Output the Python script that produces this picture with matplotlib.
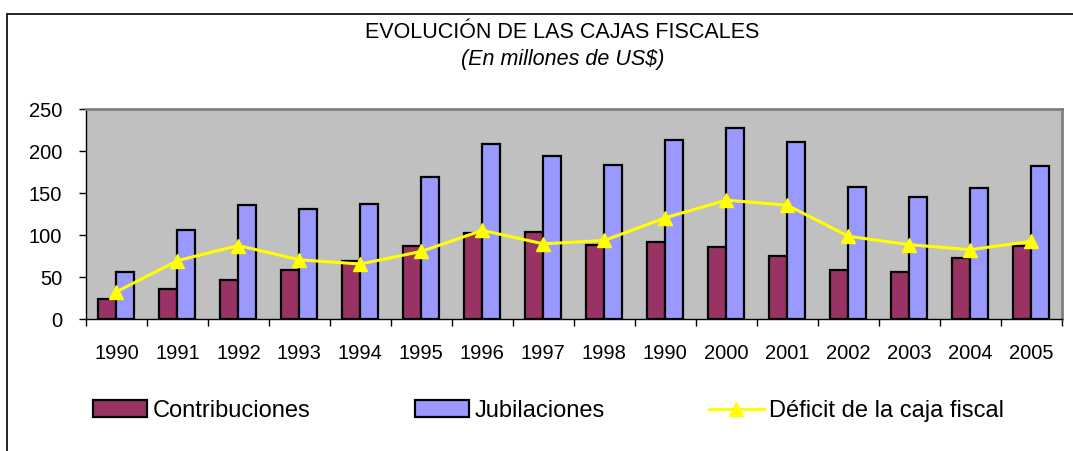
import numpy as np
import matplotlib.pyplot as plt
from matplotlib.patches import Rectangle

plt.rcParams['font.family'] = ['Liberation Sans', 'DejaVu Sans']

# Datos (millones de US$)
anios = ['1990', '1991', '1992', '1993', '1994', '1995', '1996', '1997',
         '1998', '1990', '2000', '2001', '2002', '2003', '2004', '2005']
contribuciones = [24, 36, 47, 59, 70, 87, 103, 104, 89, 92, 86, 75, 59, 57, 73, 88]
jubilaciones = [57, 106, 136, 131, 137, 169, 209, 194, 184, 213, 228, 211, 158, 146, 157, 182]
deficit = [33, 70, 88, 71, 66, 81, 106, 90, 94, 121, 142, 136, 99, 89, 83, 93]

fig = plt.figure(figsize=(10.73, 4.51), dpi=100)
ax = fig.add_axes([0.0801, 0.2916, 0.9094, 0.466])

x = np.arange(len(anios))
w = 0.295
b1 = ax.bar(x - w/2, contribuciones, w, color='#993366', edgecolor='black', linewidth=1.6,
            label='Contribuciones', zorder=2)
b2 = ax.bar(x + w/2, jubilaciones, w, color='#9999FF', edgecolor='black', linewidth=1.6,
            label='Jubilaciones', zorder=2)
l1, = ax.plot(x, deficit, color='#FFFF00', linewidth=2.2, marker='^', markersize=10,
              label='Déficit de la caja fiscal', zorder=3)

ax.set_facecolor('#C0C0C0')
ax.set_xlim(-0.5, len(anios) - 0.5)
ax.set_ylim(0, 250)
ax.set_yticks(range(0, 251, 50))
ax.set_xticks(x)
ax.set_xticklabels(anios)
ax.set_xticks(np.arange(-0.5, len(anios)), minor=True)
ax.tick_params(axis='x', which='major', length=0, pad=18, labelsize=14.5)
ax.tick_params(axis='x', which='minor', length=5, width=1, direction='out')
ax.tick_params(axis='y', length=5, width=1, pad=12, labelsize=14.5)

for s in ['top', 'right']:
    ax.spines[s].set_color('#808080')
    ax.spines[s].set_linewidth(2)
ax.spines['left'].set_linewidth(1)
ax.spines['bottom'].set_linewidth(1)

fig.text(0.524, 0.927, 'EVOLUCIÓN DE LAS CAJAS FISCALES', ha='center', va='center', fontsize=15.5)
fig.text(0.524, 0.869, '(En millones de US$)', ha='center', va='center', fontsize=15.5,
         style='italic')

leg = ax.legend([b1, b2, l1], ['Contribuciones', 'Jubilaciones', 'Déficit de la caja fiscal'],
                loc='center left', bbox_to_anchor=(93/1073, 1 - 411/451),
                bbox_transform=fig.transFigure,
                ncol=3, frameon=False, fontsize=17, handlelength=2.3, handletextpad=0.25,
                columnspacing=4.4, borderaxespad=0, borderpad=0)

# marco exterior
fig.patches.append(Rectangle((7/1073, -0.1), 1.1, 1.1 - 14/451, transform=fig.transFigure,
                             fill=False, edgecolor='black', linewidth=1.2))

fig.savefig('out.png', dpi=100)
